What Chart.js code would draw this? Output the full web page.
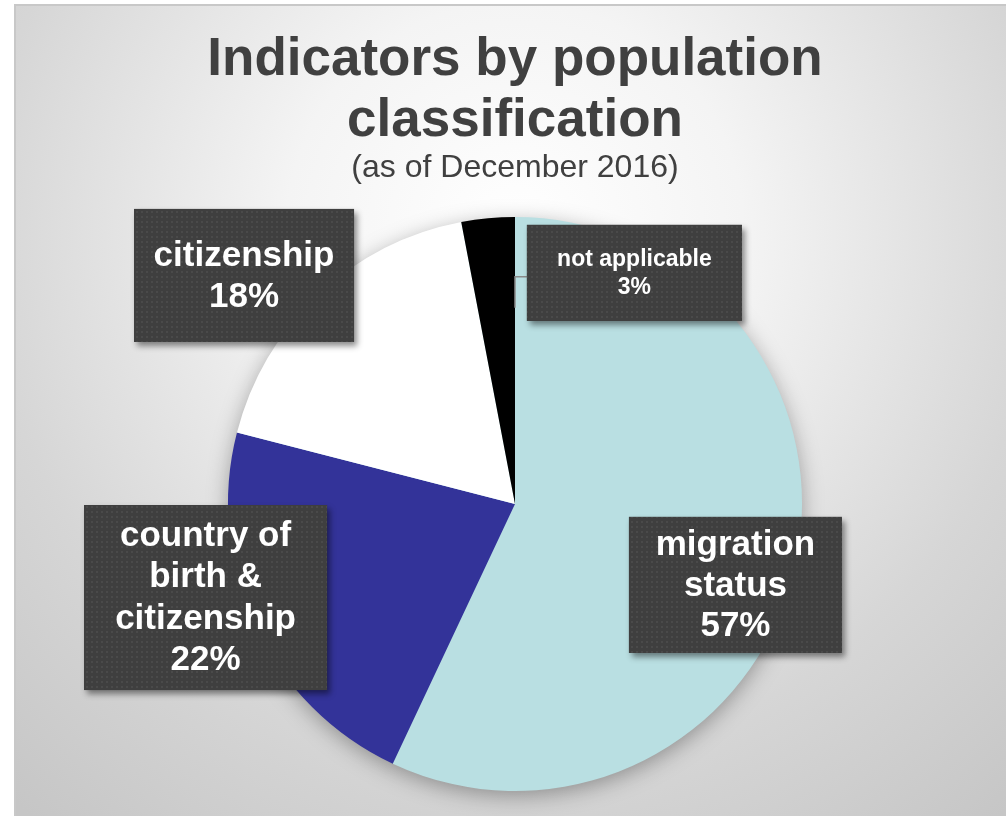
<!DOCTYPE html>
<html>
<head>
<meta charset="utf-8">
<script src="https://cdn.jsdelivr.net/npm/chart.js@4"></script>
<style>
  html, body { margin: 0; padding: 0; background: #ffffff; }
  #wrap { position: relative; width: 1006px; height: 816px; }
</style>
</head>
<body>
<div id="wrap"><canvas id="c"></canvas></div>
<script>
// ---- data ----
const categories = ['migration status', 'country of birth & citizenship', 'citizenship', 'not applicable'];
const shares = [57, 22, 18, 3];
const sliceColors = ['#b9dfe2', '#333399', '#ffffff', '#000000'];
const titleLines = ['Indicators by population', 'classification'];
const subtitleText = '(as of December 2016)';

// label box placement (relative to pie centre, in units of radius) and sizes
const labelBoxes = [
  { dx: 0.768, dy: 0.282, w: 213, h: 136, font: 35, lh: 40.5 },
  { dx: -1.078, dy: 0.326, w: 243, h: 185, font: 35, lh: 41.5 },
  { dx: -0.944, dy: -0.796, w: 220, h: 133, font: 35, lh: 41 },
  { dx: 0.416, dy: -0.805, w: 215, h: 96, font: 23, lh: 28, leader: true }
];

const FONT = '"Liberation Sans", Arial, Helvetica, sans-serif';

function makeDotPattern(ctx) {
  const p = document.createElement('canvas');
  p.width = 5; p.height = 5;
  const g = p.getContext('2d');
  g.fillStyle = '#3f3f3f';
  g.fillRect(0, 0, 5, 5);
  g.fillStyle = '#4a4a4a';
  g.fillRect(1, 1, 2, 2);
  return ctx.createPattern(p, 'repeat');
}

const backgroundPlugin = {
  id: 'bg',
  beforeDraw(chart) {
    const ctx = chart.ctx;
    const W = chart.width, H = chart.height;
    ctx.save();
    ctx.fillStyle = '#ffffff';
    ctx.fillRect(0, 0, W, H);
    const gx = 515, gy = 230;
    const grad = ctx.createRadialGradient(gx, gy, 0, gx, gy, 760);
    grad.addColorStop(0, '#ffffff');
    grad.addColorStop(0.3, '#f4f4f4');
    grad.addColorStop(0.7, '#d6d6d6');
    grad.addColorStop(1, '#c6c6c6');
    ctx.fillStyle = grad;
    ctx.fillRect(15, 4, W - 15, H - 4);
    ctx.strokeStyle = '#c8c8c8';
    ctx.lineWidth = 2;
    ctx.beginPath();
    ctx.moveTo(15, H);
    ctx.lineTo(15, 5);
    ctx.lineTo(W, 5);
    ctx.stroke();
    ctx.restore();
  }
};

const shadowPlugin = {
  id: 'pieShadow',
  beforeDatasetsDraw(chart) {
    const meta = chart.getDatasetMeta(0);
    if (!meta.data.length) return;
    const a = meta.data[0].getProps(['x', 'y', 'outerRadius'], true);
    const ctx = chart.ctx;
    ctx.save();
    ctx.shadowColor = 'rgba(0,0,0,0.35)';
    ctx.shadowBlur = 22;
    ctx.shadowOffsetY = 5;
    ctx.fillStyle = sliceColors[0];
    ctx.beginPath();
    ctx.arc(a.x, a.y, a.outerRadius - 1, 0, Math.PI * 2);
    ctx.fill();
    ctx.restore();
  }
};

function wrapText(ctx, text, maxW) {
  const words = text.split(' ');
  const lines = [];
  let cur = '';
  words.forEach(w => {
    const t = cur ? cur + ' ' + w : w;
    if (ctx.measureText(t).width > maxW && cur) {
      lines.push(cur);
      cur = w;
    } else {
      cur = t;
    }
  });
  if (cur) lines.push(cur);
  return lines;
}

const labelPlugin = {
  id: 'boxLabels',
  afterDatasetsDraw(chart) {
    const ctx = chart.ctx;
    const meta = chart.getDatasetMeta(0);
    const pattern = makeDotPattern(ctx);
    meta.data.forEach((arc, i) => {
      const p = arc.getProps(['x', 'y', 'outerRadius'], true);
      const L = labelBoxes[i];
      const cx = p.x + L.dx * p.outerRadius;
      const cy = p.y + L.dy * p.outerRadius;
      const left = cx - L.w / 2, top = cy - L.h / 2;

      if (L.leader) {
        ctx.save();
        ctx.strokeStyle = '#8a8a8a';
        ctx.lineWidth = 1.5;
        ctx.beginPath();
        const ly = cy + 4;
        ctx.moveTo(left, ly);
        ctx.lineTo(p.x, ly);
        ctx.lineTo(p.x, ly + 31);
        ctx.stroke();
        ctx.restore();
      }

      ctx.save();
      ctx.shadowColor = 'rgba(0,0,0,0.45)';
      ctx.shadowBlur = 6;
      ctx.shadowOffsetX = 3;
      ctx.shadowOffsetY = 4;
      ctx.fillStyle = '#3f3f3f';
      ctx.fillRect(left, top, L.w, L.h);
      ctx.restore();
      ctx.save();
      ctx.fillStyle = pattern;
      ctx.fillRect(left, top, L.w, L.h);
      ctx.restore();

      ctx.save();
      ctx.font = 'bold ' + L.font + 'px ' + FONT;
      ctx.fillStyle = '#ffffff';
      ctx.textAlign = 'center';
      ctx.textBaseline = 'middle';
      const lines = wrapText(ctx, categories[i], L.w - 20);
      lines.push(shares[i] + '%');
      const y0 = cy - (lines.length - 1) * L.lh / 2 + 1;
      lines.forEach((ln, k) => ctx.fillText(ln, cx, y0 + k * L.lh));
      ctx.restore();
    });
  }
};

new Chart(document.getElementById('c'), {
  type: 'pie',
  data: {
    labels: categories,
    datasets: [{
      data: shares,
      backgroundColor: sliceColors,
      borderWidth: 0,
      hoverOffset: 0
    }]
  },
  options: {
    responsive: true,
    maintainAspectRatio: false,
    animation: false,
    devicePixelRatio: 1,
    rotation: 0,
    layout: { padding: { top: 0, bottom: 25, left: 150, right: 126 } },
    plugins: {
      legend: { display: false },
      tooltip: { enabled: false },
      title: {
        display: true,
        text: titleLines,
        color: '#404040',
        font: { family: FONT, size: 53, weight: 'bold', lineHeight: 1.15 },
        padding: { top: 30, bottom: 0 }
      },
      subtitle: {
        display: true,
        text: subtitleText,
        color: '#404040',
        font: { family: FONT, size: 32, weight: 'normal', lineHeight: 1.0 },
        padding: { top: 0, bottom: 33 }
      }
    }
  },
  plugins: [backgroundPlugin, shadowPlugin, labelPlugin]
});
</script>
</body>
</html>
